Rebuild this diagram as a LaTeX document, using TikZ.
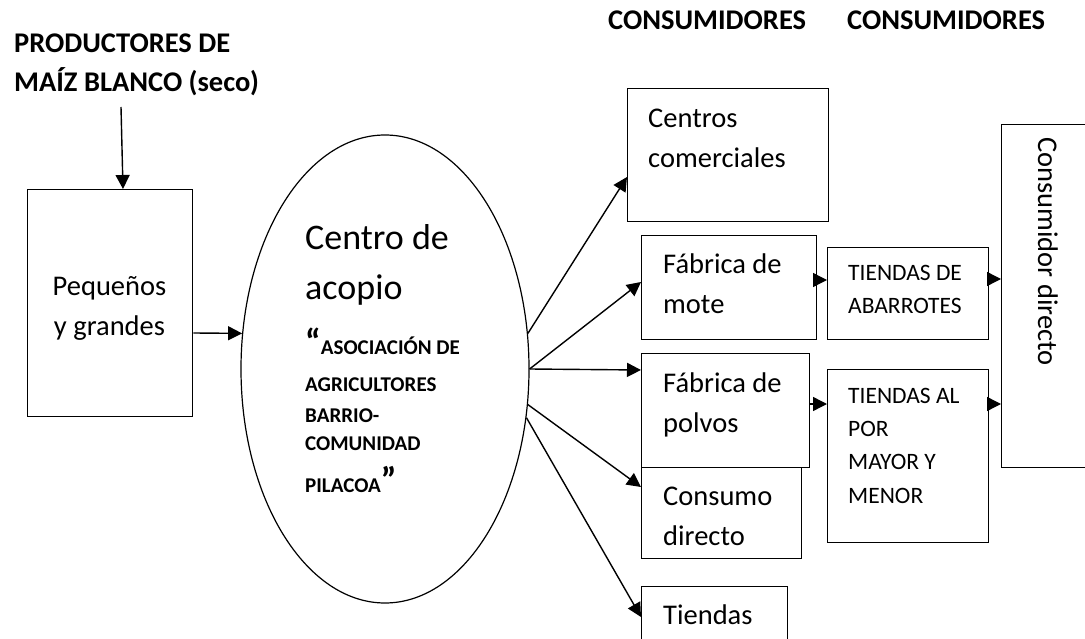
\documentclass[tikz,border=0pt]{standalone}
\usepackage{fontspec}
\setmainfont{Carlito}
\usetikzlibrary{arrows.meta,shapes.geometric,calc}
\begin{document}
\begin{tikzpicture}[x=1pt,y=-1pt,
  box/.style={draw,line width=1.4pt,inner sep=0pt,anchor=north west},
  lbl/.style={inner sep=0pt,anchor=north west,align=left,font=\fontsize{28.5}{40.5}\selectfont},
  slbl/.style={inner sep=0pt,anchor=north west,align=left,font=\fontsize{23.5}{33.3}\selectfont},
  hdr/.style={inner sep=0pt,anchor=base west,font=\fontsize{28.5}{39}\selectfont\bfseries},
  etx/.style={inner sep=0pt,anchor=base west,font=\fontsize{21}{30}\selectfont\bfseries},
  big/.style={inner sep=0pt,anchor=base west,font=\fontsize{36}{50}\selectfont},
  arr/.style={line width=1.4pt,-{Triangle[length=14pt,width=14pt]}}]
\useasboundingbox (0,0) rectangle (1085,639);

% headers
\node[hdr] (h1) at (14,53) {PRODUCTORES DE};
\node[hdr] (h2) at (14,92) {MAÍZ BLANCO (seco)};
\node[hdr] (h3) at (608,30) {CONSUMIDORES};
\node[hdr] (h4) at (847,30) {CONSUMIDORES};

% boxes
\node[box,minimum width=165pt,minimum height=227pt] (b1) at (27,189) {};
\node[lbl,align=center,anchor=north] (t1) at (109.5,266.65) {\strut Pequeños\\y grandes};

\node[box,minimum width=201pt,minimum height=133pt] (cc) at (627,88) {};
\node[lbl] (tcc) at (648,98.65) {\strut Centros\\comerciales};

\node[box,minimum width=175pt,minimum height=104pt] (fm) at (641,235) {};
\node[lbl] (tfm) at (663,244.65) {\strut Fábrica de\\mote};

\node[box,minimum width=161pt,minimum height=92pt] (ta) at (827,247) {};
\node[slbl] (tta) at (848,256.7) {\strut TIENDAS DE\\ABARROTES};

\node[box,minimum width=110pt,minimum height=343pt] (cd) at (1001,124) {};
\node[inner sep=0pt,anchor=base west,rotate=-90,font=\fontsize{28.5}{40.5}\selectfont] (tcd) at (1038,137) {Consumidor directo};

\node[box,minimum width=160pt,minimum height=91pt] (cs) at (641,467) {};
\node[lbl] (tcs) at (663,476.65) {\strut Consumo\\directo};

\node[box,minimum width=168pt,minimum height=114pt] (fp) at (641,353) {};
\node[lbl] (tfp) at (663,363.65) {\strut Fábrica de\\polvos};

\node[box,minimum width=161pt,minimum height=173pt] (tm) at (827,369) {};
\node[slbl] (ttm) at (848,379.69) {\strut TIENDAS AL\\POR\\MAYOR Y\\MENOR};

\node[box,minimum width=146pt,minimum height=80pt] (ti) at (641,586) {};
\node[lbl] (tti) at (663,595.65) {\strut Tiendas};

% ellipse
\node[draw,ellipse,line width=1.2pt,minimum width=288pt,minimum height=468pt,inner sep=0pt] (ell) at (385,369) {};
\node[big] (e1) at (305,250) {Centro de};
\node[big] (e2) at (305,300) {acopio};
\node[etx] (e3) at (305,354) {{\fontsize{36}{40}\selectfont“}ASOCIACIÓN DE};
\node[etx] (e4) at (305,391) {AGRICULTORES};
\node[etx] (e5) at (305,422) {BARRIO-};
\node[etx] (e6) at (305,450) {COMUNIDAD};
\node[etx] (e7) at (305,492) {PILACOA{\fontsize{36}{40}\selectfont”}};

% connectors
\coordinate (src) at (121,107);
\draw[arr] (src) -- ($(b1.north west)+(96,0)$);
\draw[arr] ($(b1.north east)+(0,144)$) -- (ell.166);
\draw[arr] (ell.14) -- ($(cc.north west)+(0,89)$);
\draw[arr] (ell.east) -- ($(fm.north west)+(0,47)$);
\draw[arr] (ell.east) -- ($(fp.north west)+(0,17)$);
\draw[arr] (ell.-14) -- ($(cs.north west)+(0,20)$);
\draw[arr] (ell.-19) -- ($(ti.north west)+(0,31)$);
\draw[arr] ($(fm.north east)+(0,45)$) -- ($(ta.north west)+(0,33)$);
\draw[arr] ($(ta.north east)+(0,32)$) -- ($(cd.north west)+(0,155)$);
\draw[arr] ($(fp.north east)+(0,51)$) -- ($(tm.north west)+(0,35)$);
\draw[arr] ($(tm.north east)+(0,35)$) -- ($(cd.north west)+(0,280)$);
\end{tikzpicture}
\end{document}
